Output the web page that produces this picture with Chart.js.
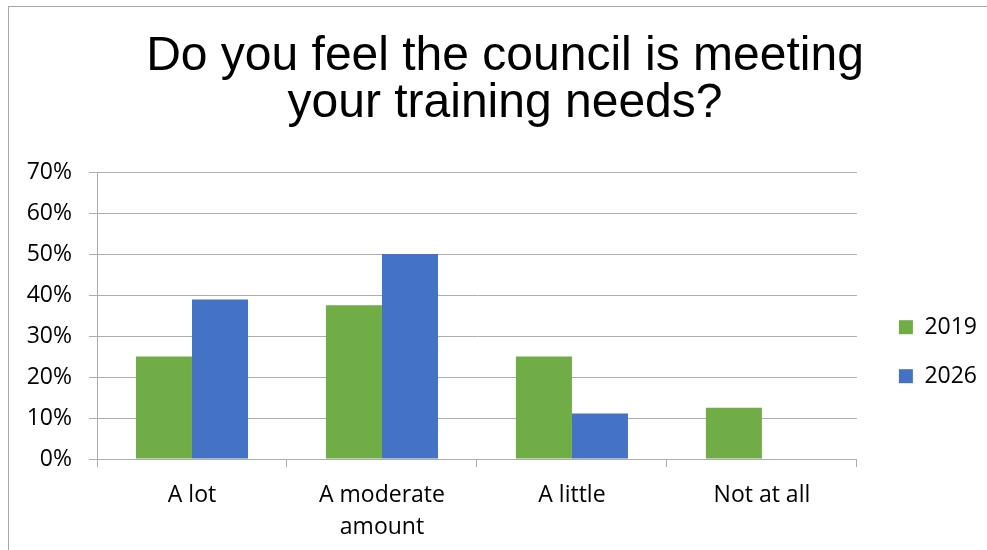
<!DOCTYPE html>
<html>
<head>
<meta charset="utf-8">
<script src="https://cdn.jsdelivr.net/npm/chart.js@4.4.1/dist/chart.umd.min.js"></script>
<style>
  html, body { margin: 0; padding: 0; background: #fff; overflow: hidden; width: 987px; height: 550px; }
  #frame { position: absolute; left: 8px; top: 6px; width: 2000px; height: 2000px; border: 1px solid #a6a6a6; box-sizing: border-box; pointer-events: none; }
  #wrap { position: absolute; left: 9px; top: 0px; width: 994px; height: 550px; }
</style>
</head>
<body>
<div id="frame"></div>
<div id="wrap"><canvas id="c" width="994" height="550"></canvas></div>
<script>
const titleLines = ["Do you feel the council is meeting", "your training needs?"];
const categories = [["A lot"], ["A moderate", "amount"], ["A little"], ["Not at all"]];
const seriesNames = ["2019", "2026"];
const values2019 = [25, 37.5, 25, 12.5];
const values2026 = [38.9, 50, 11.1, 0];
const yTicks = [0, 10, 20, 30, 40, 50, 60, 70];

const GRID = '#adadad';
const LABEL_FONT = "'Open Sans', 'DejaVu Sans', sans-serif";

new Chart(document.getElementById('c'), {
  type: 'bar',
  data: {
    labels: categories,
    datasets: [
      { label: seriesNames[0], data: values2019, backgroundColor: '#70AD47', borderWidth: 0 },
      { label: seriesNames[1], data: values2026, backgroundColor: '#4472C4', borderWidth: 0 }
    ]
  },
  options: {
    responsive: false,
    animation: false,
    devicePixelRatio: 1,
    categoryPercentage: 0.59,
    barPercentage: 1,
    layout: { padding: { left: 14, right: 16, top: 0, bottom: -5 } },
    plugins: {
      tooltip: { enabled: false },
      title: {
        display: true,
        text: titleLines,
        color: '#000',
        font: { family: "'Liberation Sans', Arial, sans-serif", size: 48, weight: 'normal', lineHeight: 0.98 },
        padding: { top: 33, bottom: 45 }
      },
      legend: {
        display: true,
        position: 'right',
        title: { display: true, text: '', padding: { top: 134, bottom: 0 } },
        labels: {
          color: '#000',
          font: { family: LABEL_FONT, size: 23 },
          boxWidth: 14,
          boxHeight: 14,
          padding: 26
        }
      }
    },
    scales: {
      x: {
        grid: { display: true, drawOnChartArea: false, drawTicks: true, tickLength: 8, color: GRID, offset: true },
        border: { display: true, color: GRID, width: 1 },
        ticks: { color: '#000', font: { family: LABEL_FONT, size: 23, lineHeight: 1.39 }, padding: 12, maxRotation: 0, autoSkip: false }
      },
      y: {
        min: 0,
        max: 70,
        afterBuildTicks: (s) => { s.ticks = yTicks.map(v => ({ value: v })); },
        afterFit: (s) => { s.width = 74; },
        grid: { color: GRID, tickLength: 8, drawTicks: true },
        border: { display: true, color: GRID, width: 1 },
        ticks: { color: '#000', font: { family: LABEL_FONT, size: 23 }, padding: 17, callback: (v) => v + '%' }
      },
      y2: {
        position: 'right',
        display: true,
        grid: { display: false },
        border: { display: false },
        ticks: { display: false },
        afterFit: (s) => { s.width = 16; }
      }
    }
  }
});
</script>
</body>
</html>
